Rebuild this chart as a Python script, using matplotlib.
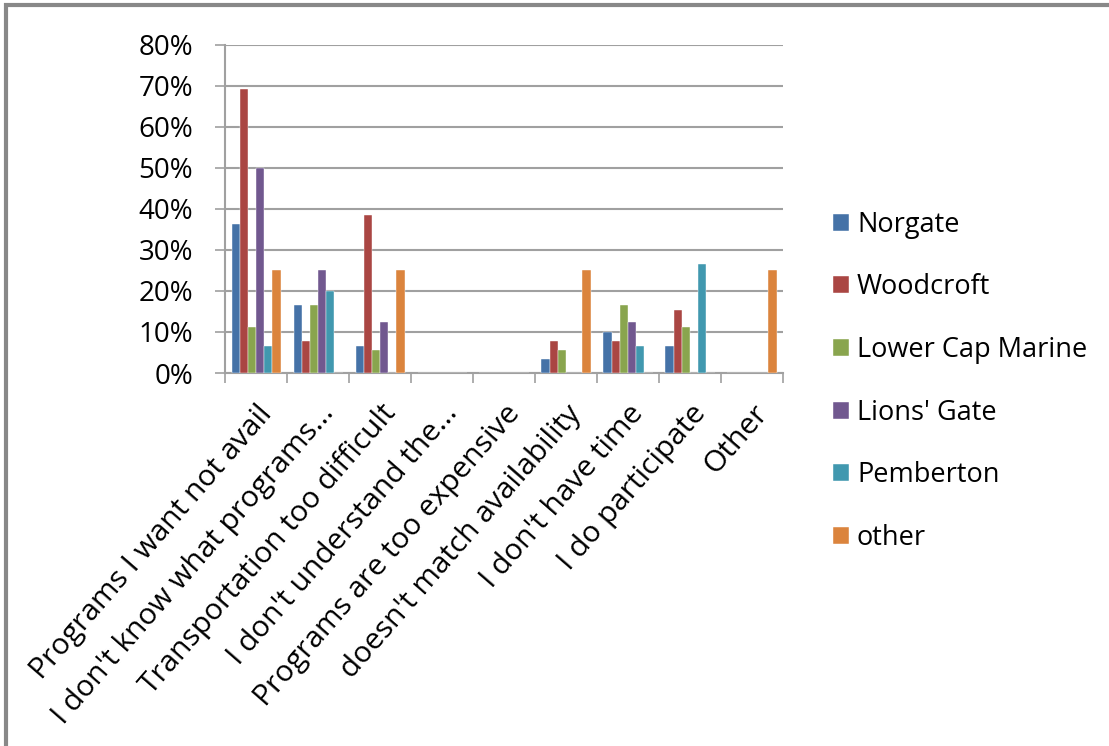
import matplotlib.pyplot as plt
import numpy as np
from matplotlib.patches import Rectangle
from matplotlib.ticker import FuncFormatter

plt.rcParams['font.family'] = ['Open Sans', 'DejaVu Sans']

# reasons for not taking part, per community (% of answers)
categories = ["Programs I want not avail", "I don't know what programs...",
              "Transportation too difficult", "I don't understand the...",
              "Programs are too expensive", "doesn't match availability",
              "I don't have time", "I do participate", "Other"]

norgate = [36.4, 16.7, 6.7, 0, 0, 3.3, 10.0, 6.7, 0]
woodcroft = [69.2, 7.7, 38.5, 0, 0, 7.7, 7.7, 15.4, 0]
lower_cap = [11.1, 16.7, 5.6, 0, 0, 5.6, 16.7, 11.1, 0]
lions_gate = [50.0, 25.0, 12.5, 0, 0, 0, 12.5, 0, 0]
pemberton = [6.7, 20.0, 0, 0, 0, 0, 6.7, 26.7, 0]
other = [25.0, 0, 25.0, 0, 0, 25.0, 0, 0, 25.0]

series = [("Norgate", norgate, '#4572A7'),
          ("Woodcroft", woodcroft, '#AA4643'),
          ("Lower Cap Marine", lower_cap, '#89A54E'),
          ("Lions' Gate", lions_gate, '#71588F'),
          ("Pemberton", pemberton, '#4198AF'),
          ("other", other, '#DB843D')]

fig = plt.figure(figsize=(11.09, 7.46), dpi=100)
ax = fig.add_axes([0.203, 0.5, 0.503, 0.4397])

x = np.arange(len(categories))
w = 0.132
for i, (name, vals, col) in enumerate(series):
    ax.bar(x + (i - 2.5) * w, vals, w, color=col, label=name,
           edgecolor='white', linewidth=0.3, zorder=3)

ax.set_xlim(-0.5, len(categories) - 0.5)
ax.set_ylim(0, 80)
ax.set_yticks(range(0, 81, 10))
ax.yaxis.set_major_formatter(FuncFormatter(lambda v, p: f"{v:.0f}%"))
ax.grid(axis='y', color='#a0a0a0', linewidth=1.5, zorder=0)
ax.tick_params(axis='y', labelsize=20, length=7, color='#a0a0a0', width=1.2, pad=16)

# category labels at the centre, tick marks at the group edges
ax.set_xticks(x)
ax.set_xticklabels(categories, rotation=49, ha='right', rotation_mode='anchor')
ax.tick_params(axis='x', which='major', length=0, labelsize=21.5, pad=19)
ax.set_xticks(np.arange(-0.5, len(categories)), minor=True)
ax.tick_params(axis='x', which='minor', length=7, color='#a0a0a0', width=1.2)

for s in ['top', 'right']:
    ax.spines[s].set_visible(False)
for s in ['left', 'bottom']:
    ax.spines[s].set_color('#a0a0a0')
    ax.spines[s].set_linewidth(1.5)

ax.legend(loc='upper left', bbox_to_anchor=(0.741, 0.732), bbox_transform=fig.transFigure,
          frameon=False, fontsize=19.5, handlelength=0.6, handleheight=0.6,
          handletextpad=0.3, labelspacing=1.28, borderaxespad=0)

# outer chart frame
fig.patches.append(Rectangle((0.005, -0.05), 1.1, 1.043, transform=fig.transFigure,
                             fill=False, edgecolor='#888888', linewidth=3))

fig.savefig('out.png', dpi=100)
